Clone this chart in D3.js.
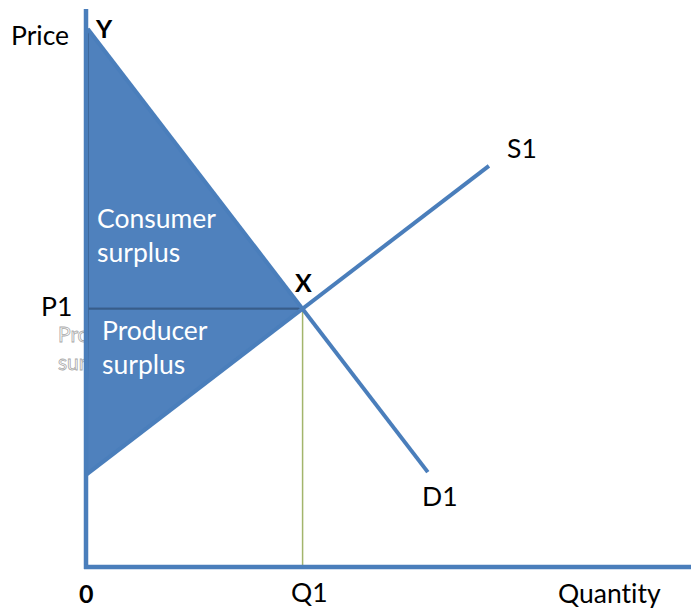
<!DOCTYPE html>
<html>
<head>
<meta charset="utf-8">
<script src="https://cdn.jsdelivr.net/npm/d3@7"></script>
<style>
html,body{margin:0;padding:0;background:#fff;}
svg{display:block;}
text{font-family:Lato,"Open Sans",sans-serif;font-variant-ligatures:none;font-feature-settings:"liga" 0;}
</style>
</head>
<body>
<div id="chart"></div>
<script>
// ---- data (quantity 0..100, price 0..100) ----
const demandPoints = [{q: 0.3, p: 96.4}, {q: 56.5, p: 17.0}];   // Y -> D1 end
const supplyPoints = [{q: 0, p: 16.5}, {q: 66.6, p: 71.9}];     // intercept -> S1 end
const equilibrium = {q: 35.8, p: 46.3};                         // X
const consumerSurplus = [{q: 0.3, p: 96.4}, {q: 0.3, p: 46.3}, {q: 35.8, p: 46.3}];
const producerSurplus = [{q: 0.3, p: 46.3}, {q: 35.8, p: 46.3}, {q: 0, p: 16.5}];
const axisLabels = {y: "Price", x: "Quantity", origin: "0"};
const tickLabels = {p: "P1", q: "Q1"};
const curveLabels = {demand: "D1", supply: "S1", top: "Y", eq: "X"};
const areaLabels = {consumer: ["Consumer", "surplus"], producer: ["Producer", "surplus"], ghost: ["Pro", "sur"]};

const W = 691, H = 610;
const x = d3.scaleLinear().domain([0, 100]).range([86, 691]);
const y = d3.scaleLinear().domain([0, 100]).range([567, 9]);

const svg = d3.select("#chart").append("svg").attr("width", W).attr("height", H);

const blue = "#4a7ebb", fill = "#4f81bd", dark = "#385d8a";
const line = d3.line().x(d => x(d.q)).y(d => y(d.p));

// ghost (partially hidden) label
svg.selectAll("text.ghost").data(areaLabels.ghost).join("text")
  .attr("class", "ghost")
  .attr("x", 58).attr("y", (d, i) => 342 + i * 28)
  .attr("font-size", 21)
  .attr("fill", "#fff").attr("stroke", "#a8a8a8").attr("stroke-width", 0.8)
  .text(d => d);

// surplus triangles
svg.append("path").datum(consumerSurplus)
  .attr("d", d => line(d) + "Z")
  .attr("fill", fill).attr("stroke", dark).attr("stroke-width", 2);
svg.append("path").datum(producerSurplus)
  .attr("d", d => line(d) + "Z")
  .attr("fill", fill).attr("stroke", dark).attr("stroke-width", 2);

// Q1 drop line
svg.append("line")
  .attr("x1", x(equilibrium.q)).attr("x2", x(equilibrium.q))
  .attr("y1", y(equilibrium.p)).attr("y2", y(0))
  .attr("stroke", "#a3b56c").attr("stroke-width", 1.5);

// demand & supply
svg.append("path").datum(demandPoints).attr("d", line)
  .attr("fill", "none").attr("stroke", blue).attr("stroke-width", 4);
svg.append("path").datum(supplyPoints).attr("d", line)
  .attr("fill", "none").attr("stroke", blue).attr("stroke-width", 4);

// axes
svg.append("line").attr("x1", x(0)).attr("x2", x(0)).attr("y1", y(100)).attr("y2", y(0) + 2)
  .attr("stroke", blue).attr("stroke-width", 4.5);
svg.append("line").attr("x1", x(0) - 2).attr("x2", x(100)).attr("y1", y(0)).attr("y2", y(0))
  .attr("stroke", blue).attr("stroke-width", 4.5);

// area labels
svg.selectAll("text.cons").data(areaLabels.consumer).join("text")
  .attr("class", "cons").attr("x", 97).attr("y", (d, i) => 228 + i * 34)
  .attr("font-size", 26.5).attr("fill", "#fff").text(d => d);
svg.selectAll("text.prod").data(areaLabels.producer).join("text")
  .attr("class", "prod").attr("x", 102).attr("y", (d, i) => 340 + i * 34)
  .attr("font-size", 26.5).attr("fill", "#fff").text(d => d);

// text labels
const lbl = (t, px, py, size, bold) => svg.append("text").attr("x", px).attr("y", py)
  .attr("font-size", size).attr("font-weight", bold ? "bold" : "normal").attr("fill", "#000").text(t);
lbl(axisLabels.y, 11, 45, 26.5);
lbl(axisLabels.x, 558, 603, 26.5);
lbl(axisLabels.origin, 79, 603, 25, true);
lbl(tickLabels.p, 41, 316, 26.5);
lbl(tickLabels.q, 291, 602, 26.5);
lbl(curveLabels.top, 96, 38, 25, true);
lbl(curveLabels.eq, 295, 292, 25, true);
lbl(curveLabels.supply, 507, 158, 26.5);
lbl(curveLabels.demand, 422, 506, 26.5);
</script>
</body>
</html>
